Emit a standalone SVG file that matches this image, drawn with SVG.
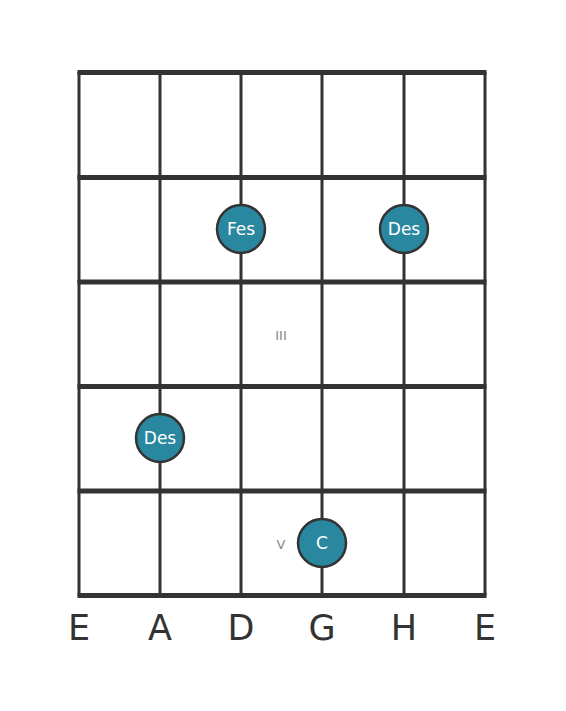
<svg xmlns="http://www.w3.org/2000/svg" width="566" height="711" viewBox="0 0 566 711">
<style>
.fret{stroke:#333;stroke-width:5;}
.str{stroke:#333;stroke-width:3;}
.dot{fill:#2a87a0;stroke:#333;stroke-width:2.5;}
.nt{font-family:"DejaVu Sans",sans-serif;font-size:17px;fill:#fff;text-anchor:middle;}
.rn{font-family:"DejaVu Sans",sans-serif;font-size:13px;fill:#888;text-anchor:middle;}
.sl{font-family:"DejaVu Sans",sans-serif;font-size:35px;fill:#333;text-anchor:middle;}
</style>
<rect width="566" height="711" fill="#fff"/>
<g id="connectors">
<line class="str" x1="79" y1="72" x2="79" y2="596"/>
<line class="str" x1="160" y1="72" x2="160" y2="596"/>
<line class="str" x1="241" y1="72" x2="241" y2="596"/>
<line class="str" x1="322" y1="72" x2="322" y2="596"/>
<line class="str" x1="404" y1="72" x2="404" y2="596"/>
<line class="str" x1="485" y1="72" x2="485" y2="596"/>
<line class="fret" x1="77.5" y1="72.5" x2="486.5" y2="72.5"/>
<line class="fret" x1="77.5" y1="177.5" x2="486.5" y2="177.5"/>
<line class="fret" x1="77.5" y1="282" x2="486.5" y2="282"/>
<line class="fret" x1="77.5" y1="386.5" x2="486.5" y2="386.5"/>
<line class="fret" x1="77.5" y1="491" x2="486.5" y2="491"/>
<line class="fret" x1="77.5" y1="595.5" x2="486.5" y2="595.5"/>
</g>
<g id="marker-III"><text class="rn" x="281" y="340">III</text></g>
<g id="marker-V"><text class="rn" x="281" y="549">V</text></g>
<g id="note-fes"><circle class="dot" cx="241" cy="229" r="24"/><text class="nt" x="241" y="235">Fes</text></g>
<g id="note-des1"><circle class="dot" cx="404" cy="229" r="24"/><text class="nt" x="404" y="235">Des</text></g>
<g id="note-des2"><circle class="dot" cx="160" cy="438" r="24"/><text class="nt" x="160" y="444">Des</text></g>
<g id="note-c"><circle class="dot" cx="322" cy="543" r="24"/><text class="nt" x="322" y="549">C</text></g>
<g id="strings">
<text class="sl" x="79" y="640">E</text>
<text class="sl" x="160" y="640">A</text>
<text class="sl" x="241" y="640">D</text>
<text class="sl" x="322" y="640">G</text>
<text class="sl" x="404" y="640">H</text>
<text class="sl" x="485" y="640">E</text>
</g>
</svg>
